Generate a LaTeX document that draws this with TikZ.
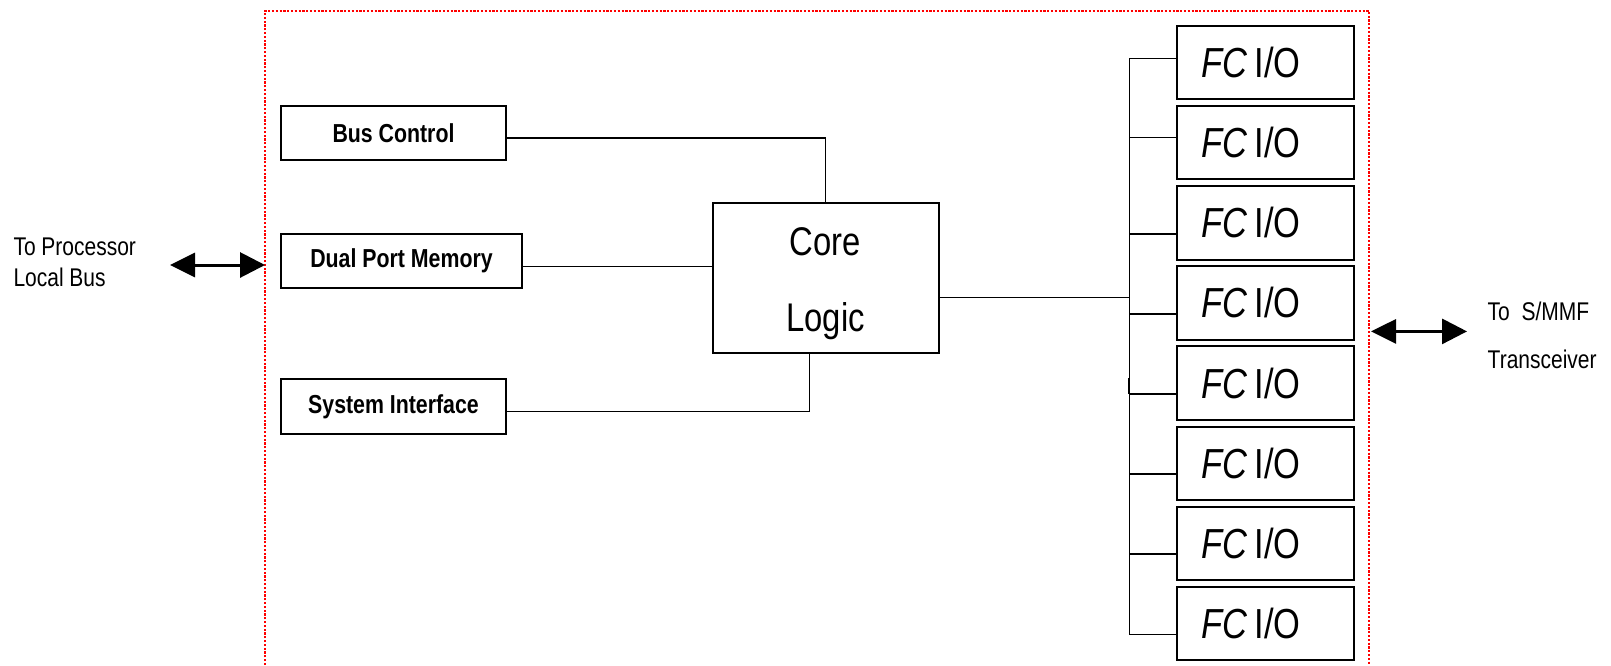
\documentclass[tikz,border=0pt]{standalone}
\usepackage{fontspec}
\setmainfont{Liberation Sans}[FakeStretch=0.82]
\usetikzlibrary{arrows.meta}
\begin{document}
\begin{tikzpicture}[x=1pt,y=-1pt,
  box/.style={draw,line width=2pt,inner sep=0pt,anchor=center},
  conn/.style={line width=1.5pt},
  sidelbl/.style={inner sep=0pt,anchor=base west,font=\fontsize{25.6}{30}\selectfont},
  smallbox/.style={box,minimum width=225pt,minimum height=54pt,font=\bfseries\fontsize{26}{30}\selectfont},
  fcbox/.style={box,minimum width=177pt,minimum height=73.3pt,font=\fontsize{42}{50}\selectfont},
  corelbl/.style={inner sep=0pt,anchor=base,font=\fontsize{40}{44}\selectfont},
  dblarrow/.style={line width=3pt,{Triangle[length=25pt,width=24pt]}-{Triangle[length=25pt,width=25pt]}},
  border/.style={red,line width=2.2pt,dash pattern=on 2.2pt off 1.6pt}
]
\useasboundingbox (0,0) rectangle (1611,665);

% dotted enclosure
\draw[border] (265,665) -- (265,10.7) -- (1369,10.7) -- (1369,665);

% left blocks
\node[smallbox] (bus) at (393.5,133) {Bus Control};
\node[smallbox,minimum width=241pt] (dual) at (401.5,261) {Dual Port Memory};
\node[smallbox,minimum height=55pt] (sys) at (393.5,406.5) {System Interface};

% core
\node[box,minimum width=226pt,minimum height=150pt] (core) at (825.5,277.5) {};
\node[corelbl] (coreA) at (825.5,255) {Core};
\node[corelbl] (coreB) at (825.5,331.7) {Logic};

% FC I/O boxes
\foreach \i in {0,...,7}
  \node[fcbox] (fc\i) at (1265.5,{62.65+80.1*\i}) {\makebox[177pt][l]{\hspace{24.7pt}\textit{FC}\hspace{0.16em}I/O}};

% stub coordinates on the bus
\foreach \i/\o in {0/32.3,1/31.6,2/47.6,3/47.8,4/47.8,5/47.4,6/47.6,7/47.6}
  \coordinate (s\i) at (1129.3,{26+80.1*\i+\o});

\coordinate (yBus) at (0,138);
\coordinate (yDual) at (0,266.7);
\coordinate (ySys) at (0,411.5);
\coordinate (yCore) at (0,297.5);

% connectors
\draw[conn] (bus.east |- yBus) -| (core.north);
\draw[line width=2.6pt] (601,138) -- (617,138);
\draw[conn] (dual.east |- yDual) -- (core.west |- yDual);
\draw[conn] (sys.east |- ySys) -| ([xshift=-16pt]core.south);
\draw[conn] (core.east |- yCore) -- (s0 |- yCore);
\draw[conn] (s0) -- (s7);
\draw[conn] (1128.3,378) -- (1128.3,394);
\foreach \i in {0,...,7}
  \draw[conn] (s\i) -- (s\i -| fc\i.west);

% external arrows
\coordinate (pl) at (170,265);
\coordinate (pr) at (265,265);
\draw[dblarrow] (pl) -- (pr);
\coordinate (ql) at (1371,331.4);
\coordinate (qr) at (1467,331.4);
\draw[dblarrow] (ql) -- (qr);

% side labels
\node[sidelbl] (procA) at (13.3,255) {To Processor};
\node[sidelbl] (procB) at (13.3,286) {Local Bus};
\node[sidelbl] (smmfA) at (1487.5,320.5) {To\ \ S/MMF};
\node[sidelbl] (smmfB) at (1487.5,368.2) {Transceiver};
\end{tikzpicture}
\end{document}
